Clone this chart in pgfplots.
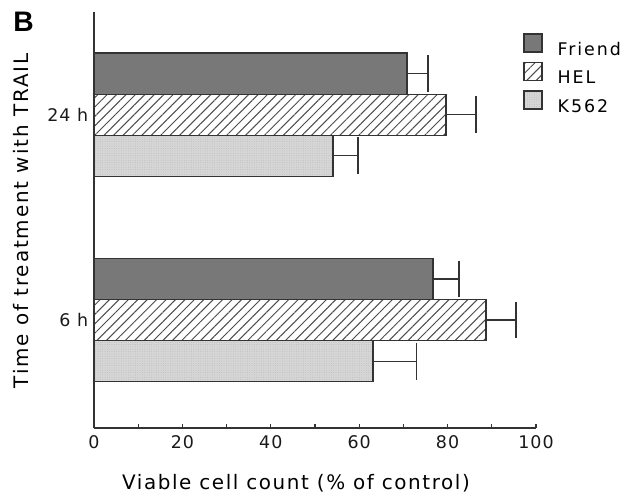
\documentclass[border=0pt]{standalone}
\usepackage{pgfplots}
\pgfplotsset{compat=1.18}
\usepackage{fontspec}
\setmainfont{DejaVu Sans}
\newfontfamily\lsp[LetterSpace=6]{DejaVu Sans}
\newfontfamily\xlab[LetterSpace=8]{DejaVu Sans}
\newfontfamily\ylab[LetterSpace=9.5]{DejaVu Sans}
\newfontfamily\lgd[LetterSpace=11]{DejaVu Sans}
\newfontfamily\bfont{Liberation Sans}
\usetikzlibrary{calc,patterns.meta}

\definecolor{frame}{gray}{0.2}
\definecolor{friend}{gray}{0.47}
\definecolor{kfill}{gray}{0.84}

\begin{document}
\begin{tikzpicture}
\begin{axis}[
  name=ax, at={(0,0)}, anchor=south west,
  scale only axis, width=265.2bp, height=249.6bp,
  xbar, bar width=0.2,
  legend image code/.code={\draw[#1] (0bp,-1.2bp) rectangle (10.8bp,9.6bp);},
  xmin=0, xmax=100, ymin=0.475, ymax=2.5,
  axis lines=left, axis line style={-, line width=0.9pt, frame},
  xtick={0,20,...,100}, minor x tick num=1,
  tick align=inside, major tick length=2.2bp, minor tick length=2.2bp,
  tick style={line width=0.7pt, frame},
  ytick={1,2}, yticklabels={6 h,24 h},
  ytick style={draw=none},
  extra y ticks={1.5,2.5}, extra y tick labels={},
  extra y tick style={tick align=outside, major tick length=2.5bp,
    tick style={draw=frame, line width=0.7pt}},
  /pgf/number format/assume math mode=true,
  ticklabel style={font=\lsp\fontsize{10.5}{12}\selectfont, text=black!90},
  xticklabel style={yshift=-1bp},
  legend style={at={(0.9706,0.9495)}, anchor=north west, draw=none, fill=none,
    inner sep=0pt, row sep=2.5bp, column sep=9bp,
    nodes={inner sep=0pt}, font=\lgd\fontsize{10.5}{12}\selectfont},
  legend cell align=left,
  error bars/error mark=|,
  error bars/error bar style={line width=0.8pt, frame},
  error bars/error mark options={line width=0.8pt, frame, mark size=11bp},
]
\addplot[bar shift=0.2, draw=frame, line width=0.8pt, fill=friend,
  error bars/.cd, x dir=plus, x explicit]
  coordinates {(70.8,2) +- (4.8,0) (76.7,1) +- (5.9,0)};
\addplot[bar shift=0, draw=frame, line width=0.8pt, fill=white,
  postaction={pattern={Lines[angle=45,distance=4bp,line width=0.6bp]}, pattern color=black!70},
  error bars/.cd, x dir=plus, x explicit]
  coordinates {(79.6,2) +- (6.8,0) (88.7,1) +- (6.8,0)};
\addplot[bar shift=-0.2, draw=frame, line width=0.8pt, fill=kfill,
  postaction={pattern={Dots[distance=1.4bp,radius=0.25bp]}, pattern color=black!30},
  error bars/.cd, x dir=plus, x explicit]
  coordinates {(54.1,2) +- (5.6,0) (63.1,1) +- (9.8,0)};
\legend{Friend,HEL,K562}
\end{axis}
\node[anchor=base, font=\xlab\fontsize{12}{14}\selectfont, text=black]
  at ($(ax.south west)+(121.2bp,-36.6bp)$) {Viable cell count (\% of control)};
\node[anchor=base, rotate=90, font=\ylab\fontsize{12}{14}\selectfont, text=black]
  at ($(ax.south west)+(-39.6bp,124.2bp)$) {Time of treatment with TRAIL};
\node[anchor=north west, inner sep=0pt, font=\bfont\bfseries\fontsize{17}{19}\selectfont]
  at ($(ax.north west)+(-48.6bp,0bp)$) {B};
\pgfresetboundingbox
\path[use as bounding box] ($(ax.south west)+(-56.4bp,-39.6bp)$) rectangle ($(ax.north east)+(58.2bp,7.2bp)$);
\end{tikzpicture}
\end{document}
